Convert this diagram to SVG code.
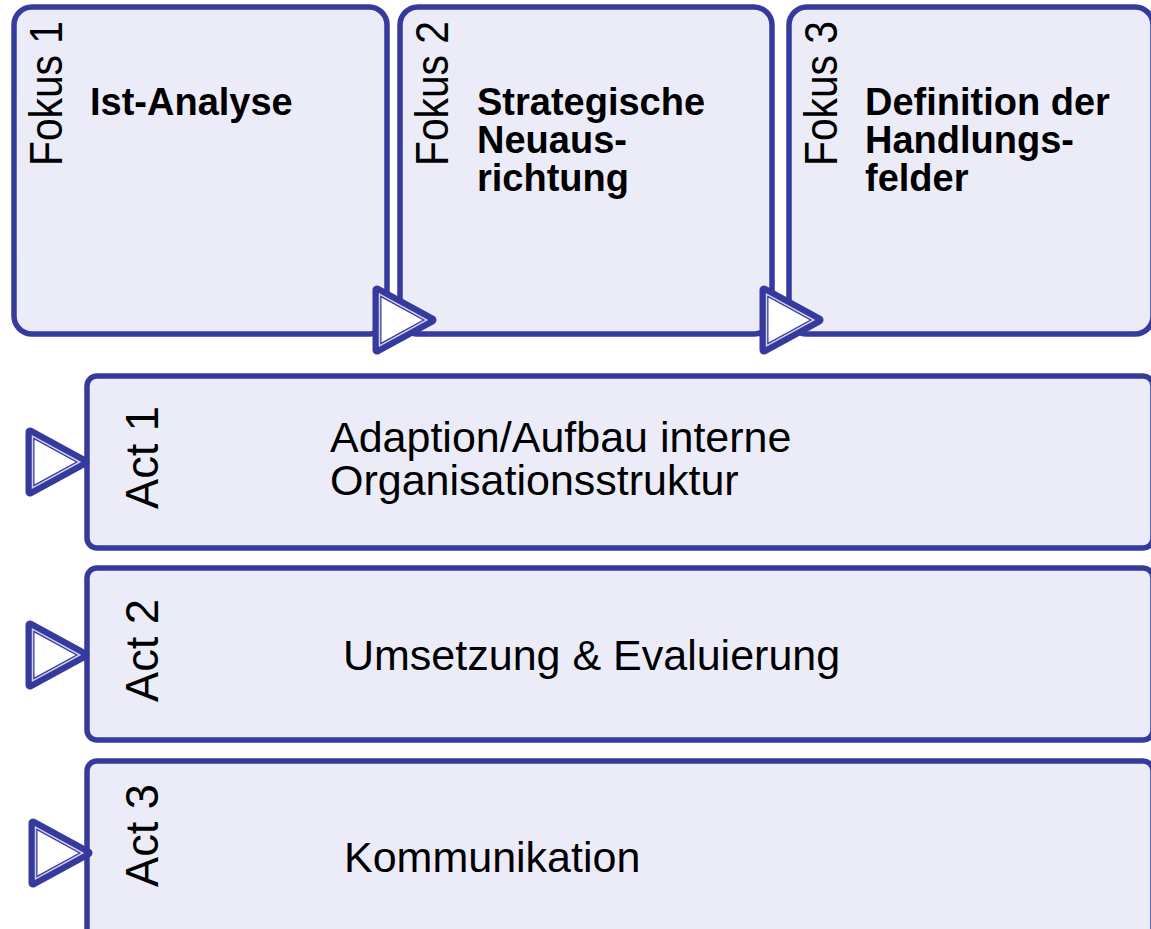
<svg xmlns="http://www.w3.org/2000/svg" xmlns:xlink="http://www.w3.org/1999/xlink" width="1151" height="929" viewBox="0 0 1151 929">
<style>
.box{fill:#ececf8;stroke:#363a9c;stroke-width:5.5}
.tri-o{fill:#ffffff;stroke:#363a9c;stroke-width:9;stroke-linejoin:round}
.tri-i{fill:none;stroke:#d4d4f2;stroke-width:1.7;stroke-linejoin:miter}
.side{font-family:"Liberation Sans",Arial,sans-serif;font-size:47px;fill:#000}
.title{font-family:"Liberation Sans",Arial,sans-serif;font-size:38px;font-weight:bold;fill:#000}
.body{font-family:"Liberation Sans",Arial,sans-serif;font-size:43px;fill:#000}
</style>
<defs>
<g id="tri">
<polygon class="tri-o" points="-17.8,-30 -17.8,30 37.2,0"/>
<polygon class="tri-i" points="-17.8,-30 -17.8,30 37.2,0" transform="scale(0.86)"/>
</g>
</defs>
<rect width="1151" height="929" fill="#ffffff"/>
<g id="fokus1">
<rect class="box" x="14" y="7" width="373" height="327" rx="18"/>
<text class="side" transform="translate(62,166) rotate(-90)" textLength="145" lengthAdjust="spacingAndGlyphs">Fokus 1</text>
<text class="title" x="90" y="115">Ist-Analyse</text>
</g>
<g id="fokus2">
<rect class="box" x="400" y="7" width="372" height="327" rx="18"/>
<text class="side" transform="translate(448,166) rotate(-90)" textLength="145" lengthAdjust="spacingAndGlyphs">Fokus 2</text>
<text class="title" x="477" y="115">Strategische</text>
<text class="title" x="477" y="153">Neuaus-</text>
<text class="title" x="477" y="191">richtung</text>
</g>
<g id="fokus3">
<rect class="box" x="789" y="7" width="364" height="327" rx="18"/>
<text class="side" transform="translate(837,166) rotate(-90)" textLength="145" lengthAdjust="spacingAndGlyphs">Fokus 3</text>
<text class="title" x="865" y="115">Definition der</text>
<text class="title" x="865" y="153">Handlungs-</text>
<text class="title" x="865" y="191">felder</text>
</g>
<g id="act1">
<rect class="box" x="87" y="376" width="1066" height="172" rx="10"/>
<text class="side" transform="translate(158,509) rotate(-90)" textLength="103" lengthAdjust="spacingAndGlyphs">Act 1</text>
<text class="body" x="330" y="452">Adaption/Aufbau interne</text>
<text class="body" x="330" y="495">Organisationsstruktur</text>
</g>
<g id="act2">
<rect class="box" x="87" y="568" width="1066" height="172" rx="10"/>
<text class="side" transform="translate(158,702) rotate(-90)" textLength="103" lengthAdjust="spacingAndGlyphs">Act 2</text>
<text class="body" x="343" y="670">Umsetzung &amp; Evaluierung</text>
</g>
<g id="act3">
<rect class="box" x="87" y="761" width="1066" height="200" rx="10"/>
<text class="side" transform="translate(158,887) rotate(-90)" textLength="103" lengthAdjust="spacingAndGlyphs">Act 3</text>
<text class="body" x="344" y="872">Kommunikation</text>
</g>
<g id="connectors">
<use xlink:href="#tri" transform="translate(394.8,320)"/>
<use xlink:href="#tri" transform="translate(781.8,320)"/>
<use xlink:href="#tri" transform="translate(47.8,462)"/>
<use xlink:href="#tri" transform="translate(47.8,655)"/>
<use xlink:href="#tri" transform="translate(50.8,853)"/>
</g>
</svg>
